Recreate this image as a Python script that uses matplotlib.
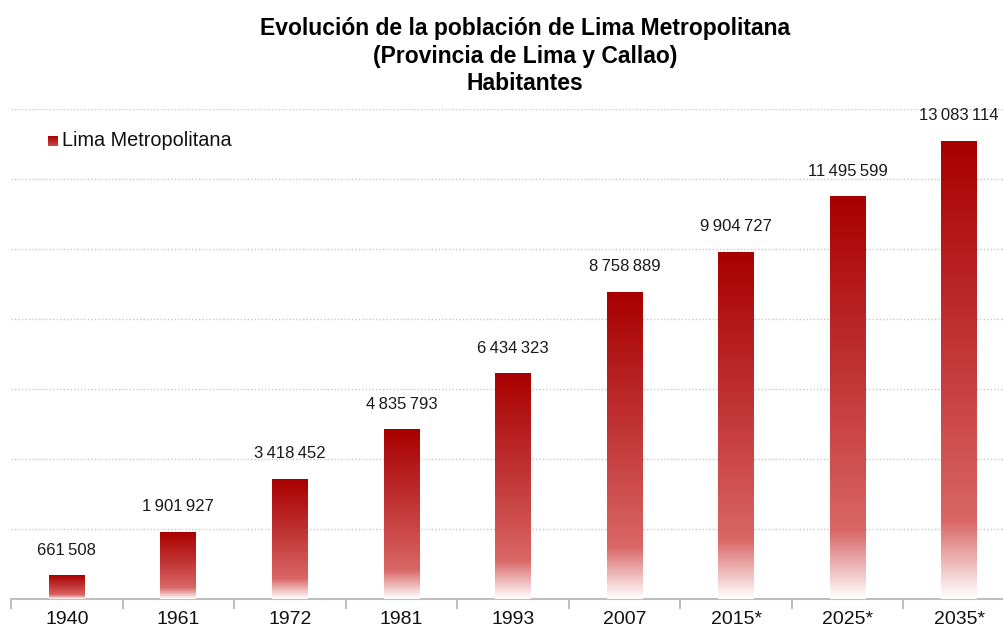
import numpy as np
import matplotlib
matplotlib.use('Agg')
from matplotlib import pyplot as plt
from matplotlib.colors import LinearSegmentedColormap

# Data
years = ['1940', '1961', '1972', '1981', '1993', '2007', '2015*', '2025*', '2035*']
population = [661508, 1901927, 3418452, 4835793, 6434323, 8758889, 9904727, 11495599, 13083114]
series_name = 'Lima Metropolitana'
title = 'Evolución de la población de Lima Metropolitana\n(Provincia de Lima y Callao)\nHabitantes'

plt.rcParams['font.family'] = ['Liberation Sans', 'DejaVu Sans']

# gradient from white (bottom) to dark red (top)
grad = LinearSegmentedColormap.from_list(
    'redfade', [(0.0, '#FFFFFF'), (0.17, '#DA6666'), (0.55, '#C23535'), (1.0, '#A80000')])
col = np.linspace(0, 1, 256).reshape(-1, 1)

W, H = 1004, 630
fig = plt.figure(figsize=(W / 100, H / 100), dpi=100)
ax = fig.add_axes([11 / W, 31 / H, 1004 / W, 490 / H])

x = np.arange(len(years))
bw = 0.32
for xi, val in zip(x, population):
    ax.imshow(col, cmap=grad, origin='lower', aspect='auto', interpolation='bilinear',
              extent=[xi - bw / 2, xi + bw / 2, 0, val], zorder=3)
    label = f'{val:,}'.replace(',', '\u2009')
    ax.annotate(label, (xi, val), xytext=(0, 18), textcoords='offset pixels',
                ha='center', va='bottom', fontsize=12, color='#1a1a1a')

ax.set_xlim(-0.5, len(years) - 0.5)
ax.set_ylim(0, 14000000)

# grid
ax.set_yticks(np.arange(2000000, 14000001, 2000000))
ax.yaxis.grid(True, linestyle=(0, (1, 1.5)), color='#C8C8C8', linewidth=1)
ax.tick_params(axis='y', left=False, labelleft=False)
ax.set_axisbelow(True)

for s in ['top', 'right', 'left']:
    ax.spines[s].set_visible(False)
ax.spines['bottom'].set_color('#BFBFBF')
ax.spines['bottom'].set_linewidth(1.5)

ax.set_xticks(x)
ax.set_xticklabels(years, fontsize=14, color='#111111')
ax.tick_params(axis='x', which='major', length=0, pad=9)
ax.set_xticks(np.arange(-0.5, len(years), 1), minor=True)
ax.tick_params(axis='x', which='minor', length=7, color='#BFBFBF', width=1.5, direction='out')

fig.suptitle(title, x=525 / W, y=1 - 17 / H, fontsize=16.5, fontweight='bold', va='top', linespacing=1.25)

# legend
lax = fig.add_axes([48 / W, 1 - 146 / H, 10 / W, 10 / H])
lax.imshow(col, cmap=grad, origin='lower', aspect='auto', vmin=-0.6, vmax=1)
lax.axis('off')
fig.text(62 / W, 1 - 141 / H, series_name, fontsize=14.3, va='center', ha='left', color='#111111')

fig.savefig('out.png', dpi=100)
